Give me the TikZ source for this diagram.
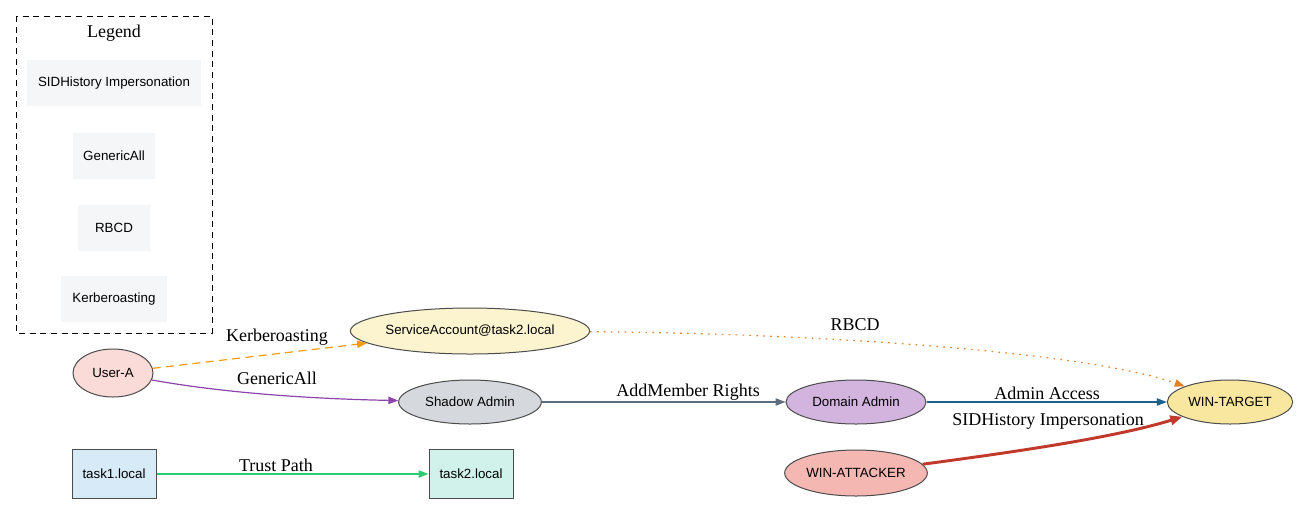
\documentclass[tikz,border=0pt]{standalone}
\usepackage{fontspec}
\setmainfont{Liberation Serif}
\setsansfont{Liberation Sans}
\usetikzlibrary{shapes.geometric,arrows.meta}
\definecolor{fillUser}{HTML}{FADBD8}
\definecolor{fillSvc}{HTML}{FCF3CF}
\definecolor{fillShadow}{HTML}{D5D8DC}
\definecolor{fillDomain}{HTML}{D2B4DE}
\definecolor{fillTarget}{HTML}{F9E79F}
\definecolor{fillAttacker}{HTML}{F5B7B1}
\definecolor{fillTaskA}{HTML}{D6EAF8}
\definecolor{fillTaskB}{HTML}{D1F2EB}
\definecolor{fillLegend}{HTML}{F4F6F7}
\definecolor{edgeKerb}{HTML}{F39C12}
\definecolor{edgeGeneric}{HTML}{8E44AD}
\definecolor{edgeMember}{HTML}{5D6D7E}
\definecolor{edgeAdmin}{HTML}{1F618D}
\definecolor{edgeRbcd}{HTML}{E67E22}
\definecolor{edgeSid}{HTML}{C0392B}
\definecolor{edgeTrust}{HTML}{2ECC71}
\begin{document}
\begin{tikzpicture}[x=0.75pt,y=-0.75pt,
    acct/.style={ellipse, draw=black!70, line width=0.75pt, inner sep=0pt, font=\sffamily\fontsize{10}{12}\selectfont},
    realm/.style={rectangle, draw=black!70, line width=0.75pt, inner sep=0pt, minimum width=63pt, minimum height=37pt, font=\sffamily\fontsize{10}{12}\selectfont},
    legitem/.style={rectangle, fill=fillLegend, inner sep=0pt, minimum height=35pt, font=\sffamily\fontsize{10}{12}\selectfont},
    elabel/.style={inner sep=0pt, font=\fontsize{13.5}{16}\selectfont},
    edge/.style={line width=0.9pt, -{Triangle[length=7.5pt,width=5.5pt]}}]
    \useasboundingbox (0,0) rectangle (1299,504);

    % Legend box
    \draw[dash pattern=on 4.5pt off 3.5pt, line width=0.75pt] (16,16) rectangle (212,333);
    \node[elabel] (legtitle) at (114,33) {Legend};
    \foreach \y/\w/\t [count=\k] in {83/131/SIDHistory Impersonation, 156/61/GenericAll, 228/54/RBCD, 299/80/Kerberoasting} {
        \node[legitem, minimum width=\w pt] (leg\k) at (114,\y) {\t};
    }

    % Accounts and hosts
    \node[acct, fill=fillUser, minimum width=60pt, minimum height=36pt] (usera) at (113,373) {User-A};
    \node[acct, fill=fillSvc, minimum width=178pt, minimum height=34.5pt] (svc) at (470,331) {ServiceAccount@task2.local};
    \node[acct, fill=fillShadow, minimum width=107pt, minimum height=33pt] (shadow) at (470,402) {Shadow Admin};
    \node[acct, fill=fillDomain, minimum width=105pt, minimum height=33pt] (domadmin) at (856,402) {Domain Admin};
    \node[acct, fill=fillTarget, minimum width=94pt, minimum height=33pt] (target) at (1230,402) {WIN-TARGET};
    \node[acct, fill=fillAttacker, minimum width=107pt, minimum height=34.5pt] (attacker) at (856,473) {WIN-ATTACKER};

    % Domains
    \node[realm, fill=fillTaskA] (taskA) at (114,474) {task1.local};
    \node[realm, fill=fillTaskB] (taskB) at (471,474) {task2.local};

    % Attack edges
    \draw[edge, edgeKerb, dash pattern=on 6pt off 4pt] (usera) -- (svc);
    \draw[edge, edgeGeneric] (usera) .. controls (230,394) and (320,399) .. (shadow);
    \draw[edge, edgeMember] (shadow) -- (domadmin);
    \draw[edge, edgeAdmin] (domadmin) -- (target);
    \draw[edge, edgeRbcd, dash pattern=on 1.2pt off 4pt] (svc) .. controls (800,333) and (1080,350) .. (target);
    \draw[edge, edgeSid, line width=2.2pt, -{Triangle[length=9pt,width=7pt]}] (attacker) .. controls (1030,450) and (1120,436) .. (target);
    \draw[edge, edgeTrust] (taskA) -- (taskB);

    % Edge labels
    \node[elabel] (lkerb) at (277,337) {Kerberoasting};
    \node[elabel] (lgeneric) at (277,378) {GenericAll};
    \node[elabel] (lmember) at (688,392) {AddMember Rights};
    \node[elabel] (ladmin) at (1047,393) {Admin Access};
    \node[elabel] (lrbcd) at (855,325) {RBCD};
    \node[elabel] (lsid) at (1048,421) {SIDHistory Impersonation};
    \node[elabel] (ltrust) at (276,465) {Trust Path};
\end{tikzpicture}
\end{document}
